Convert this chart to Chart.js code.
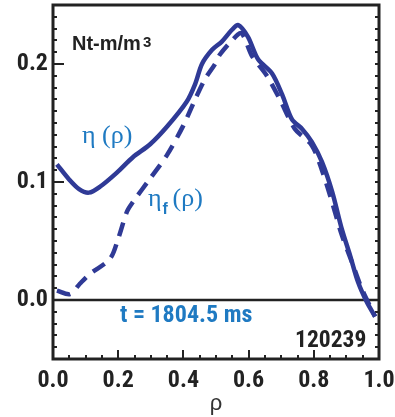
<!DOCTYPE html>
<html>
<head>
<meta charset="utf-8">
<script src="https://cdn.jsdelivr.net/npm/chart.js@4"></script>
<style>
html,body{margin:0;padding:0;background:#fff;}
#c{display:block;}
</style>
</head>
<body>
<canvas id="c" width="395" height="417"></canvas>
<script>
// rho values and profiles
const rhoEta = [0.012,0.05,0.08,0.11,0.144,0.196,0.245,0.298,0.35,0.41,0.436,0.457,0.488,0.518,0.549,0.568,0.598,0.629,0.672,0.703,0.733,0.764,0.794,0.825,0.856,0.886,0.911,0.936,0.963,0.988];
const eta    = [0.115,0.102,0.094,0.091,0.096,0.108,0.121,0.132,0.147,0.168,0.183,0.200,0.212,0.219,0.229,0.233,0.223,0.204,0.192,0.174,0.153,0.145,0.134,0.117,0.092,0.060,0.038,0.015,-0.002,-0.014];
const rhoEtaF = [0.012,0.052,0.083,0.113,0.175,0.2,0.227,0.245,0.298,0.35,0.4,0.436,0.466,0.497,0.512,0.549,0.578,0.61,0.656,0.696,0.742,0.794,0.825,0.856,0.886,0.917,0.948,0.988];
const etaF    = [0.008,0.005,0.014,0.022,0.035,0.052,0.075,0.083,0.103,0.123,0.148,0.170,0.187,0.200,0.208,0.220,0.226,0.207,0.190,0.170,0.145,0.131,0.110,0.083,0.055,0.032,0.009,-0.014];
const xTicks = [0.0,0.2,0.4,0.6,0.8,1.0];
const yTicks = [0.0,0.1,0.2];

const curveColor = '#2f3a96';
const labelBlue = '#1f7ac2';
const ink = '#222';
const NARROW = '"Roboto Condensed", "Liberation Sans", Arial, sans-serif';

const decor = {
  id:'decor',
  beforeDatasetsDraw(chart){
    const {ctx, chartArea:a, scales:{x,y}} = chart;
    ctx.save();
    ctx.strokeStyle = ink;
    ctx.lineWidth = 2.5;
    ctx.beginPath();
    ctx.moveTo(a.left, y.getPixelForValue(0));
    ctx.lineTo(a.right, y.getPixelForValue(0));
    ctx.stroke();
    ctx.lineWidth = 2;
    for (let i = -5; i <= 25; i++) {
      const v = i/100;
      const py = Math.round(y.getPixelForValue(v));
      const major = (i % 10 === 0);
      ctx.beginPath();
      ctx.moveTo(a.left, py); ctx.lineTo(a.left + (major ? 11 : 4), py);
      ctx.moveTo(a.right, py); ctx.lineTo(a.right - 4, py);
      ctx.stroke();
    }
    for (let i = 0; i <= 20; i++) {
      const v = i/20;
      const px = Math.round(x.getPixelForValue(v));
      const major = (i % 4 === 0);
      ctx.beginPath();
      ctx.moveTo(px, a.bottom); ctx.lineTo(px, a.bottom - (major ? 9 : 4));
      ctx.stroke();
    }
    ctx.lineWidth = 3;
    ctx.strokeRect(a.left, a.top, a.right - a.left, a.bottom - a.top);
    ctx.restore();
  },
  afterDatasetsDraw(chart){
    const {ctx} = chart;
    ctx.save();
    ctx.textBaseline = 'alphabetic';
    ctx.textAlign = 'left';
    ctx.fillStyle = ink;
    ctx.font = 'bold 20px "Liberation Sans", Arial, sans-serif';
    ctx.fillText('Nt-m/m', 72, 50);
    const w = ctx.measureText('Nt-m/m').width;
    ctx.font = 'bold 15px "Liberation Sans", Arial, sans-serif';
    ctx.fillText('3', 72 + w + 2, 47);
    ctx.fillStyle = labelBlue;
    ctx.font = '26px "Liberation Serif", "Times New Roman", serif';
    ctx.fillText('η (ρ)', 82, 143);
    ctx.fillText('η', 148, 206);
    const we = ctx.measureText('η').width;
    ctx.font = 'bold 16px "Liberation Sans", Arial, sans-serif';
    ctx.fillText('f', 148 + we + 1, 214);
    ctx.font = '26px "Liberation Serif", "Times New Roman", serif';
    ctx.fillText('(ρ)', 148 + we + 11, 206);
    ctx.font = 'bold 24px ' + NARROW;
    ctx.fillText('t = 1804.5 ms', 120, 322);
    ctx.fillStyle = ink;
    ctx.font = 'bold 23.5px ' + NARROW;
    ctx.fillText('120239', 295, 347);
    ctx.restore();
  }
};

function zeroPad(s){ s.paddingTop = 0; s.paddingBottom = 0; s.paddingLeft = 0; s.paddingRight = 0; }

new Chart(document.getElementById('c'), {
  type:'line',
  data:{
    datasets:[
      {label:'eta', data: rhoEta.map((r,i)=>({x:r,y:eta[i]})), borderColor:curveColor, borderWidth:4.5, pointRadius:0, tension:0.3, fill:false},
      {label:'etaF', data: rhoEtaF.map((r,i)=>({x:r,y:etaF[i]})), borderColor:curveColor, borderWidth:4.5, borderDash:[14,9], pointRadius:0, tension:0.3, fill:false}
    ]
  },
  options:{
    responsive:false,
    animation:false,
    events:[],
    layout:{padding:{top:5,right:16,left:0,bottom:0}},
    plugins:{legend:{display:false}, tooltip:{enabled:false}},
    scales:{
      x:{
        type:'linear', min:0, max:1,
        afterFit(s){ s.height = 58; zeroPad(s); },
        afterBuildTicks(s){ s.ticks = xTicks.map(v=>({value:v})); },
        grid:{display:false, drawTicks:false},
        border:{display:false},
        ticks:{padding:8, color:ink, font:{family:NARROW, size:24, weight:'bold'}, callback:v=>v.toFixed(1), maxRotation:0},
        title:{display:true, text:'ρ', color:'#333', font:{family:'"Liberation Sans", Arial, sans-serif', size:22}, padding:{top:-12,bottom:0}}
      },
      y:{
        type:'linear', min:-0.05, max:0.25,
        afterFit(s){ s.width = 53; zeroPad(s); },
        afterBuildTicks(s){ s.ticks = yTicks.map(v=>({value:v})); },
        grid:{display:false, drawTicks:false},
        border:{display:false},
        ticks:{padding:5, color:ink, font:{family:NARROW, size:24, weight:'bold'}, callback:v=>v.toFixed(1)}
      }
    }
  },
  plugins:[decor]
});
</script>
</body>
</html>
